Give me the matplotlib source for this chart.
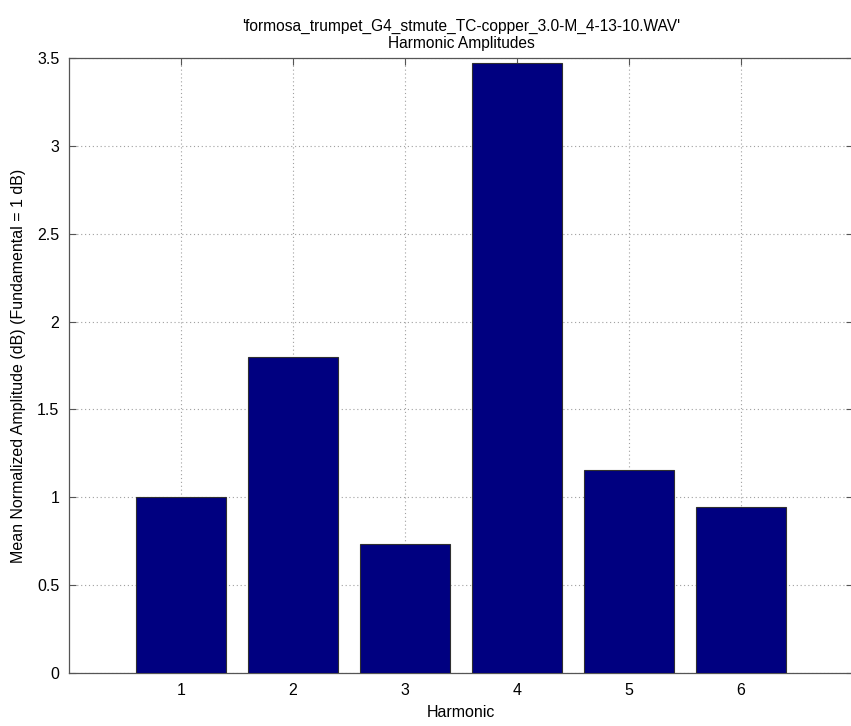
import numpy as np
import matplotlib.pyplot as plt

plt.rcParams['font.family'] = ['Liberation Sans', 'DejaVu Sans']

harmonics = [1, 2, 3, 4, 5, 6]
amplitudes = [1.0, 1.80, 0.735, 3.47, 1.155, 0.943]
y_ticks = [0, 0.5, 1, 1.5, 2, 2.5, 3, 3.5]
y_tick_labels = ['0', '0.5', '1', '1.5', '2', '2.5', '3', '3.5']

fig = plt.figure(figsize=(8.51, 7.26), dpi=100)
ax = fig.add_axes([0.0811, 0.073, 0.9213, 0.847])

ax.bar(harmonics, amplitudes, width=0.8, color='#000080',
       edgecolor='#303030', linewidth=0.8, zorder=3)

ax.set_xlim(0, 7)
ax.set_ylim(0, 3.5)
ax.set_xticks(harmonics)
ax.set_yticks(y_ticks)
ax.set_yticklabels(y_tick_labels)
ax.tick_params(direction='in', length=5, width=0.8, labelsize=11.5,
               top=True, right=True, color='#555555', pad=7)

ax.grid(True, linestyle=(0, (1, 2.5)), color='#a0a0a0', linewidth=0.8, zorder=1)
for side in ['left', 'bottom', 'top', 'right']:
    ax.spines[side].set_color('#555555')
    ax.spines[side].set_linewidth(0.9)

ax.set_title("'formosa_trumpet_G4_stmute_TC-copper_3.0-M_4-13-10.WAV'\nHarmonic Amplitudes",
             fontsize=11.2, pad=7, linespacing=1.2)
ax.set_xlabel('Harmonic', fontsize=11.5, labelpad=5)
ax.set_ylabel('Mean Normalized Amplitude (dB) (Fundamental = 1 dB)', fontsize=11.5, labelpad=8)

fig.savefig('out.png', dpi=100)
